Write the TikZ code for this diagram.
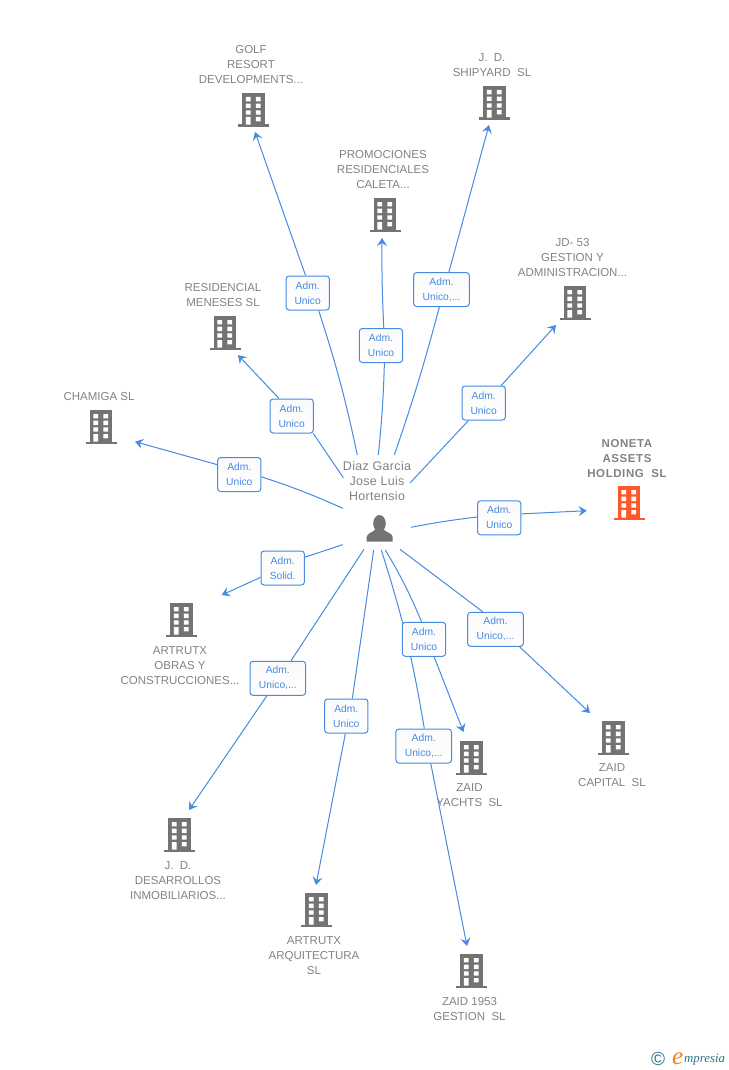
\documentclass[tikz,border=0pt]{standalone}
\usepackage{fontspec}
\setmainfont{Liberation Sans}
\newfontfamily\spacedfont[LetterSpace=5]{Liberation Sans}
\newfontfamily\personfont[LetterSpace=2.5]{Liberation Sans}
\newfontfamily\logofont{Liberation Serif}
\usetikzlibrary{arrows.meta,backgrounds}
\definecolor{linkblue}{RGB}{70,138,226}
\definecolor{labelgray}{RGB}{130,130,130}
\definecolor{bldggray}{RGB}{115,115,115}
\definecolor{bldgred}{RGB}{255,87,41}
\definecolor{logoteal}{RGB}{50,110,135}
\definecolor{logoorange}{RGB}{240,130,30}
\tikzset{
  pics/bldg/.style={code={
    \fill[#1] (-11.3,-17) rectangle (11.3,15);
    \fill[#1] (-15.5,14.5) rectangle (15.5,17.3);
    \fill[white] (-7.7,-13) rectangle (-3,-8.7) (2.3,-13) rectangle (7,-8.7);
    \fill[white] (-7.7,-6.3) rectangle (-3,-2) (2.3,-6.3) rectangle (7,-2);
    \fill[white] (-7.7,0.3) rectangle (-3,4.7) (2.3,0.3) rectangle (7,4.7);
    \fill[white] (-7.7,7) rectangle (-3,14.7) (2.3,7) rectangle (7,11.3);
  }},
  lbl/.style={text=labelgray,align=center,font=\fontsize{11.5}{15}\selectfont,inner sep=0pt},
  badge/.style={draw=linkblue,top color=black!2,bottom color=white,rounded corners=3pt,line width=1pt,text=linkblue,align=center,
    font=\fontsize{10.3}{15}\selectfont,minimum height=34pt,inner sep=0pt},
  unico/.style={badge,minimum width=43.3pt},
  unicos/.style={badge,minimum width=55.6pt},
  link/.style={draw=linkblue,line width=1pt},
  tip/.style={link,-{Stealth[length=8pt,width=10pt,inset=3pt]}}
}

\begin{document}
\begin{tikzpicture}[x=1pt,y=-1pt]
\useasboundingbox (0,0) rectangle (728,1070);

\pic (golf) at (253.5,110) {bldg=bldggray};
\pic (shipyard) at (494.5,103) {bldg=bldggray};
\pic (promo) at (385,215) {bldg=bldggray};
\pic (jdgest) at (575,303) {bldg=bldggray};
\pic (resid) at (225,333) {bldg=bldggray};
\pic (chamiga) at (101,427) {bldg=bldggray};
\pic (noneta) at (629,503) {bldg=bldgred};
\pic (obras) at (181.5,620) {bldg=bldggray};
\pic (desarr) at (179.5,835) {bldg=bldggray};
\pic (arqui) at (316.5,910) {bldg=bldggray};
\pic (gestion) at (471.5,971) {bldg=bldggray};
\pic (yachts) at (471.5,758) {bldg=bldggray};
\pic (capital) at (613.5,738) {bldg=bldggray};

\node[lbl] (golflbl) at (251,65) {GOLF\\RESORT\\DEVELOPMENTS...};
\node[lbl] (shipyardlbl) at (492,65.5) {J.~~D.\\SHIPYARD~~SL};
\node[lbl] (promolbl) at (383,170) {PROMOCIONES\\RESIDENCIALES\\CALETA...};
\node[lbl] (jdgestlbl) at (572.5,258) {JD-~53\\GESTION Y\\ADMINISTRACION...};
\node[lbl] (residlbl) at (223,295.5) {RESIDENCIAL\\MENESES SL};
\node[lbl] (chamigalbl) at (99,397) {CHAMIGA SL};
\node[lbl,font=\spacedfont\fontsize{11.5}{15}\selectfont\bfseries] (nonetalbl) at (627,459) {NONETA\\ASSETS\\HOLDING~~SL};
\node[lbl] (obraslbl) at (180,666) {ARTRUTX\\OBRAS Y\\CONSTRUCCIONES...};
\node[lbl] (desarrlbl) at (178,881) {J.~~D.\\DESARROLLOS\\INMOBILIARIOS...};
\node[lbl] (arquilbl) at (314,956) {ARTRUTX\\ARQUITECTURA\\SL};
\node[lbl] (gestionlbl) at (469.5,1009.5) {ZAID 1953\\GESTION~~SL};
\node[lbl] (yachtslbl) at (469.5,795.5) {ZAID\\YACHTS~~SL};
\node[lbl] (capitallbl) at (612,775.5) {ZAID\\CAPITAL~~SL};
\node[lbl,font=\personfont\fontsize{12.5}{15}\selectfont] (personlbl) at (377,481) {Diaz Garcia\\Jose Luis\\Hortensio};

\fill[bldggray] (379.5,523.5) ellipse (6.3 and 8.5);
\fill[bldggray] (366.7,541.7) -- (366.7,537) .. controls (367,533) and (373,532.5) .. (376,529) -- (383,529) .. controls (386,532.5) and (392.4,533) .. (392.7,537) -- (392.7,541.7) -- cycle;

\node[unico] (bgolf) at (307.7,293) {Adm.\\Unico};
\node[unico] (bpromo) at (381,345.5) {Adm.\\Unico};
\node[unicos] (bshipyard) at (441.5,289.5) {Adm.\\Unico,...};
\node[unico] (bjdgest) at (483.7,403) {Adm.\\Unico};
\node[unico] (bresid) at (291.7,416) {Adm.\\Unico};
\node[unico] (bchamiga) at (239.3,474.5) {Adm.\\Unico};
\node[unico] (bnoneta) at (499.2,517.8) {Adm.\\Unico};
\node[unico] (bsolid) at (282.7,568) {Adm.\\Solid.};
\node[unicos] (bobras) at (277.8,678.3) {Adm.\\Unico,...};
\node[unico] (barqui) at (346.3,716) {Adm.\\Unico};
\node[unicos] (bgestion) at (423.7,746) {Adm.\\Unico,...};
\node[unico] (byachts) at (424,639.3) {Adm.\\Unico};
\node[unicos] (bcapital) at (495.5,629.3) {Adm.\\Unico,...};

\coordinate (sgolf) at (357.3,455);
\coordinate (spromo) at (378.3,455);
\coordinate (sshipyard) at (394.3,455);
\coordinate (sjdgest) at (410,483);
\coordinate (sresid) at (343.3,477.7);
\coordinate (schamiga) at (342.7,508.3);
\coordinate (snoneta) at (411,527.3);
\coordinate (ssolid) at (342.7,544.7);
\coordinate (sobras) at (364,549.3);
\coordinate (sarqui) at (373.7,550);
\coordinate (sgestion) at (381.3,550);
\coordinate (syachts) at (385.3,550);
\coordinate (scapital) at (400,549.3);

\coordinate (tgolf) at (255,132);
\coordinate (tpromo) at (382,238);
\coordinate (tshipyard) at (489,125);
\coordinate (tjdgest) at (556,325);
\coordinate (tresid) at (238,355);
\coordinate (tchamiga) at (135,441.7);
\coordinate (tnoneta) at (586.7,510.7);
\coordinate (tsolid) at (221.7,595);
\coordinate (tobras) at (189,810);
\coordinate (tarqui) at (316,885);
\coordinate (tgestion) at (467,946);
\coordinate (tyachts) at (463.5,732);
\coordinate (tcapital) at (590,713);

\node[anchor=base west,inner sep=0pt,text=logoteal,font=\fontsize{19}{19}\selectfont] (logoc) at (651,1065.5) {©};
\node[anchor=base west,inner sep=0pt,text=logoorange,font=\logofont\itshape\fontsize{25}{25}\selectfont] (logoe) at (672,1064.5) {e};
\node[anchor=base west,inner sep=0pt,text=logoteal,font=\logofont\itshape\fontsize{12.8}{13}\selectfont] (logotxt) at (684,1062.5) {mpresia};

\begin{scope}[on background layer]
\draw[link] (sgolf) to[bend right=3] (bgolf.-58);
\draw[tip] (bgolf.97) -- (tgolf);
\draw[link] (spromo) to[bend right=2] (bpromo.-79);
\draw[tip] (bpromo.81) to[bend left=1.5] (tpromo);
\draw[link] (sshipyard) to[bend right=2] (bshipyard.-97);
\draw[tip] (bshipyard.67) -- (tshipyard);
\draw[link] (sjdgest) -- (bjdgest.-131);
\draw[tip] (bjdgest.45) -- (tjdgest);
\draw[link] (sresid) -- (bresid.-39);
\draw[tip] (bresid.126) -- (tresid);
\draw[link] (schamiga) to[bend right=3] (bchamiga.-6);
\draw[tip] (bchamiga.156) -- (tchamiga);
\draw[link] (snoneta) to[bend left=2] (bnoneta.178);
\draw[tip] (bnoneta.10) -- (tnoneta);
\draw[link] (ssolid) -- (bsolid.26);
\draw[tip] (bsolid.-157) -- (tsolid);
\draw[link] (sobras) -- (bobras.53);
\draw[tip] (bobras.-122.5) -- (tobras);
\draw[link] (sarqui) -- (barqui.71);
\draw[tip] (barqui.-93) -- (tarqui);
\draw[link] (sgestion) to[bend left=4] (bgestion.88);
\draw[tip] (bgestion.-68) -- (tgestion);
\draw[link] (syachts) to[bend left=4] (byachts.98);
\draw[tip] (byachts.-60) -- (tyachts);
\draw[link] (scapital) -- (bcapital.126.5);
\draw[tip] (bcapital.-36) -- (tcapital);
\end{scope}

\end{tikzpicture}
\end{document}
